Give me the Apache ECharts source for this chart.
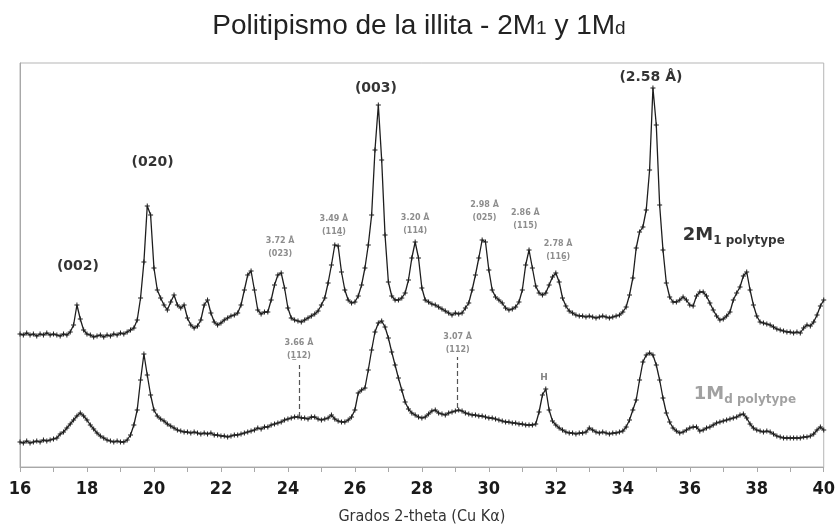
<!DOCTYPE html>
<html><head><meta charset="utf-8">
<script src="https://cdn.jsdelivr.net/npm/echarts@6/dist/echarts.min.js"></script>
<style>html,body{margin:0;padding:0;background:#fff}#c{width:838px;height:531px}</style>
</head><body><div id="c"></div>
<script>
// 2-theta sampling grid (degrees, step 0.1 from 16 to 40)
const twoTheta = [];
for (let i = 0; i <= 240; i++) twoTheta.push(Math.round((16 + i * 0.1) * 10) / 10);

// Intensity (arbitrary units) of the 2M1 pattern, one value per 0.1 deg
const int2M1 = [
 133,132,134,132,133,131,133,132,134,132,
 133,132,131,133,132,135,142,162,148,137,
 133,132,130,131,132,130,132,131,133,132,
 134,133,135,137,139,147,169,205,261,252,
 199,177,169,162,157,165,172,162,159,162,
 149,142,139,141,147,162,167,154,145,142,
 144,147,149,151,152,154,162,177,192,196,
 177,157,153,155,155,167,182,192,194,179,
 159,149,147,146,145,147,149,151,153,156,
 162,169,184,202,222,221,195,177,167,164,
 165,171,182,199,222,252,317,362,307,232,
 185,171,167,167,169,174,187,209,225,209,
 179,167,165,163,162,160,158,156,154,152,
 154,153,154,159,164,177,192,209,227,225,
 197,177,170,167,164,159,157,158,160,165,
 177,202,217,199,181,174,172,174,182,190,
 194,185,169,161,156,154,152,151,151,150,
 151,150,149,150,151,150,149,150,151,152,
 155,160,172,189,219,235,240,257,297,379,
 342,262,217,184,170,165,165,167,170,167,
 162,161,171,175,175,171,164,157,151,147,
 148,151,155,167,174,180,191,195,177,162,
 151,145,144,143,142,140,138,137,136,135,
 135,134,135,134,139,142,141,145,152,161,
 167
];

// Intensity (arbitrary units) of the 1Md pattern, one value per 0.1 deg
const int1Md = [
 25,24,26,24,25,26,25,27,26,27,
 28,29,33,35,39,43,47,51,54,51,
 47,42,38,34,31,29,27,26,25,26,
 25,25,27,32,42,57,87,113,92,72,
 57,51,48,46,43,41,39,37,36,35,
 35,34,35,34,33,34,33,34,32,32,
 31,31,30,31,32,32,33,34,35,36,
 37,39,38,40,40,42,43,44,45,47,
 48,49,50,50,49,49,48,50,50,48,
 47,48,49,52,48,46,45,45,47,50,
 57,74,77,79,97,117,135,144,146,140,
 129,115,102,89,77,65,58,54,52,50,
 49,50,53,56,57,54,53,52,54,55,
 56,57,56,54,53,52,52,51,51,50,
 49,49,48,47,46,45,45,44,44,43,
 43,42,42,42,43,55,72,78,57,46,
 42,39,37,35,34,34,33,34,34,35,
 39,37,35,34,35,34,33,34,34,35,
 36,40,47,57,67,87,105,112,114,112,
 102,87,69,54,45,39,36,34,35,37,
 39,40,40,36,37,39,40,42,44,45,
 46,47,48,49,50,52,53,49,43,39,
 37,36,35,36,35,33,31,30,29,29,
 29,29,29,29,30,30,31,33,37,40,
 37
];

// Axis tick labels (degrees 2-theta)
const xTickLabels = [16,18,20,22,24,26,28,30,32,34,36,38,40];

// Main reflection labels: [2-theta, intensity, text]
const mainLabels = [
 [17.73, 201, '(002)'],
 [19.96, 305, '(020)'],
 [26.63, 379, '(003)'],
 [34.84, 390, '(2.58 Å)']
];
// d-spacing / hkl labels: [2-theta, intensity, d-spacing, hkl]
const hklLabels = [
 [23.77, 219.5, '3.72 Å', '(023)'],
 [25.375, 242, '3.49 Å', '(114\u0332)'],
 [27.8, 243, '3.20 Å', '(114)'],
 [29.87, 256, '2.98 Å', '(025)'],
 [31.09, 247.5, '2.86 Å', '(115)'],
 [32.07, 216.5, '2.78 Å', '(116\u0332)'],
 [24.33, 117.5, '3.66 Å', '(1\u033212)'],
 [29.07, 123.5, '3.07 Å', '(112)']
];
// Other labels: [2-theta, intensity, text]
const otherLabels = [[31.65, 89, 'H']];
// Polytype names: [2-theta, intensity, main, subscript]
const polytypeLabels = [
 [35.79, 234, '2M', '1 polytype'],
 [36.12, 75, '1M', 'd polytype']
];
// Dashed markers for 1Md reflections: [2-theta, from, to]
const dashedMarks = [[24.33, 50, 102], [29.07, 59, 110]];

const plusSymbol = 'path://M2,0h1v2h2v1h-2v2h-1v-2h-2v-1h2z';
const chart = echarts.init(document.getElementById('c'));
const seriesLine = (name, vals, extra) => Object.assign({
  name, type: 'line', data: twoTheta.map((x, i) => [x, vals[i]]),
  symbol: plusSymbol, symbolSize: 5, showSymbol: true,
  lineStyle: {color: '#1e1e1e', width: 1.3},
  itemStyle: {color: '#1e1e1e'}, silent: true, animation: false, z: 3
}, extra || {});

const titleFont = 'Liberation Sans, Arial, sans-serif';
chart.setOption({
  animation: false,
  title: {
    text: '{t|Politipismo de la illita - 2M}{s|1}{t| y 1M}{s|d}',
    left: 'center', top: 1,
    textStyle: {fontFamily: titleFont, fontSize: 28, fontWeight: 'normal', color: '#222',
      rich: {
        t: {fontFamily: titleFont, fontSize: 28, color: '#222', verticalAlign: 'bottom', lineHeight: 34},
        s: {fontFamily: titleFont, fontSize: 19, color: '#222', verticalAlign: 'bottom', lineHeight: 34, padding: [0,0,2,0]}
      }}
  },
  grid: {left: 20, right: 11, top: 63, bottom: 64, show: true, borderColor: '#b5b5b5', borderWidth: 1},
  xAxis: {
    type: 'value', min: 16, max: 40, interval: 1,
    name: 'Grados 2-theta (Cu Kα)', nameLocation: 'middle', nameGap: 42,
    nameTextStyle: {fontFamily: 'Liberation Sans Narrow, DejaVu Sans Condensed, sans-serif', fontSize: 16, color: '#333'},
    axisLine: {lineStyle: {color: '#a8a8a8', width: 1}},
    axisTick: {length: 5, lineStyle: {color: '#a8a8a8'}},
    splitLine: {show: false},
    axisLabel: {
      margin: 13,
      fontFamily: 'Liberation Sans Narrow, DejaVu Sans Condensed, sans-serif', fontWeight: 'bold', fontSize: 18, color: '#1a1a1a',
      formatter: v => xTickLabels.includes(v) ? String(v) : ''
    }
  },
  yAxis: {
    type: 'value', min: 0, max: 404,
    axisLine: {show: true, lineStyle: {color: '#a8a8a8'}},
    axisTick: {show: false}, axisLabel: {show: false}, splitLine: {show: false}
  },
  series: [
    seriesLine('2M1', int2M1),
    seriesLine('1Md', int1Md, {
      markLine: {
        silent: true, symbol: 'none', label: {show: false},
        lineStyle: {type: [5, 3], color: '#555', width: 1.2},
        data: dashedMarks.map(d => [{coord: [d[0], d[1]]}, {coord: [d[0], d[2]]}])
      }
    }),
    {
      type: 'scatter', symbolSize: 0, silent: true, z: 5,
      data: mainLabels.map(d => ({value: [d[0], d[1]], name: d[2]})),
      label: {show: true, position: 'inside', formatter: p => p.name,
        fontFamily: 'DejaVu Sans, Verdana, sans-serif', fontWeight: 'bold', fontSize: 14, color: '#000'}
    },
    {
      type: 'scatter', symbolSize: 0, silent: true, z: 5,
      data: hklLabels.map(d => ({value: [d[0], d[1]], name: d[2] + '\n' + d[3]})),
      label: {show: true, position: 'inside', formatter: p => p.name, lineHeight: 13,
        fontFamily: 'DejaVu Sans, Verdana, sans-serif', fontWeight: 'bold', fontSize: 8, color: '#707070'}
    },
    {
      type: 'scatter', symbolSize: 0, silent: true, z: 5,
      data: otherLabels.map(d => ({value: [d[0], d[1]], name: d[2]})),
      label: {show: true, position: 'inside', formatter: p => p.name,
        fontFamily: 'DejaVu Sans, Verdana, sans-serif', fontWeight: 'bold', fontSize: 9, color: '#666'}
    },
    {
      type: 'scatter', symbolSize: 0, silent: true, z: 5,
      data: polytypeLabels.map((d, i) => ({value: [d[0], d[1]], name: d[2] + '|' + d[3],
        label: {color: i === 0 ? '#000' : '#8a8a8a'}})),
      label: {show: true, position: 'right', distance: 0,
        formatter: p => { const [a, b] = p.name.split('|'); return '{m|' + a + '}{s|' + b + '}'; },
        rich: {
          m: {fontFamily: 'DejaVu Sans, Verdana, sans-serif', fontWeight: 'bold', fontSize: 18, verticalAlign: 'bottom', lineHeight: 22},
          s: {fontFamily: 'DejaVu Sans, Verdana, sans-serif', fontWeight: 'bold', fontSize: 12, verticalAlign: 'bottom', lineHeight: 22, padding: [0,0,-3,0]}
        }}
    }
  ]
});
</script></body></html>
